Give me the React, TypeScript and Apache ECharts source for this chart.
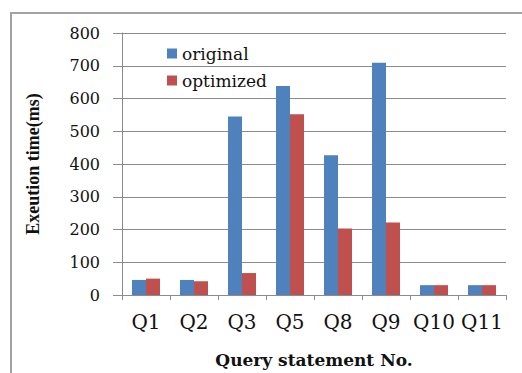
import React, { useEffect, useRef } from "react";
import * as echarts from "echarts";

// Query statements on the category axis
const categories = ["Q1", "Q2", "Q3", "Q5", "Q8", "Q9", "Q10", "Q11"];
// Execution time in ms before and after optimization
const originalTimes = [46, 46, 545, 638, 427, 709, 30, 30];
const optimizedTimes = [50, 42, 67, 552, 203, 221, 30, 30];
// Value axis range
const yMin = 0;
const yMax = 800;
const yStep = 100;

const SERIF = "'DejaVu Serif', 'Liberation Serif', serif";
const GRAY = "#8c8c8c";

export default function App() {
  const ref = useRef<HTMLDivElement>(null);

  useEffect(() => {
    if (!ref.current) return;
    const chart = echarts.init(ref.current, null, { renderer: "svg" });
    chart.setOption({
      animation: false,
      backgroundColor: "#ffffff",
      color: ["#4F81BD", "#C0504D"],
      graphic: [
        {
          type: "rect",
          z: -1,
          shape: { x: 11, y: 13, width: 540, height: 420 },
          style: { fill: "none", stroke: "#a3a3a3", lineWidth: 2 },
        },
      ],
      legend: {
        orient: "vertical",
        left: 162,
        top: 40,
        itemWidth: 10,
        itemHeight: 10,
        itemGap: 10,
        icon: "rect",
        textStyle: { fontFamily: SERIF, fontSize: 17, color: "#111" },
        data: ["original", "optimized"],
      },
      grid: { left: 122, right: 16, top: 33, bottom: 77, containLabel: false },
      xAxis: {
        type: "category",
        data: categories,
        boundaryGap: true,
        name: "Query statement No.",
        nameLocation: "middle",
        nameGap: 56,
        nameTextStyle: {
          fontFamily: SERIF,
          fontSize: 17,
          fontWeight: "bold",
          color: "#111",
        },
        axisLine: { show: true, lineStyle: { color: GRAY, width: 1 } },
        axisTick: {
          show: true,
          alignWithLabel: false,
          interval: 0,
          length: 5,
          lineStyle: { color: GRAY },
        },
        axisLabel: {
          interval: 0,
          fontFamily: SERIF,
          fontSize: 20,
          color: "#111",
          margin: 17,
        },
      },
      yAxis: {
        type: "value",
        min: yMin,
        max: yMax,
        interval: yStep,
        name: "Exeution time(ms)",
        nameLocation: "middle",
        nameGap: 80,
        nameTextStyle: {
          fontFamily: "'Liberation Serif', serif",
          fontSize: 18,
          fontWeight: "bold",
          color: "#111",
        },
        axisLine: { show: true, lineStyle: { color: GRAY, width: 1 } },
        axisTick: { show: true, length: 9, lineStyle: { color: GRAY } },
        splitLine: { show: true, lineStyle: { color: GRAY, width: 1 } },
        axisLabel: {
          fontFamily: SERIF,
          fontSize: 16,
          color: "#111",
          margin: 22,
        },
      },
      series: [
        {
          name: "original",
          type: "bar",
          data: originalTimes,
          barWidth: 14,
          barGap: "0%",
        },
        {
          name: "optimized",
          type: "bar",
          data: optimizedTimes,
          barWidth: 14,
          barGap: "0%",
        },
      ],
    });
    return () => chart.dispose();
  }, []);

  return (
    <div
      ref={ref}
      style={{ width: 522, height: 373, position: "absolute", left: 0, top: 0 }}
    />
  );
}
